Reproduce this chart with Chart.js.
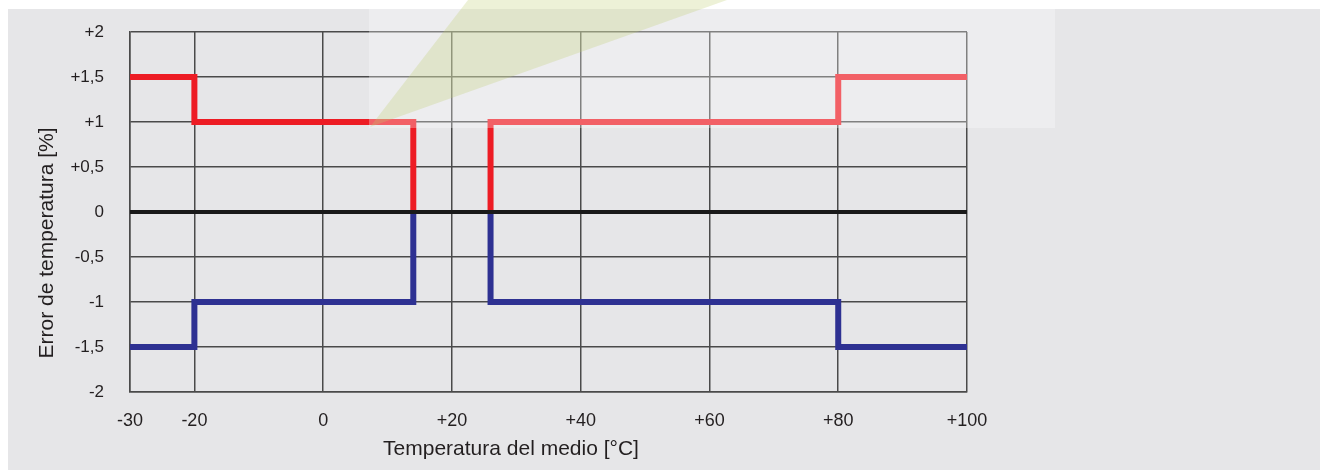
<!DOCTYPE html>
<html>
<head>
<meta charset="utf-8">
<script src="https://cdn.jsdelivr.net/npm/chart.js@4/dist/chart.umd.min.js"></script>
<style>
  html, body { margin: 0; padding: 0; background: #fff; }
  #wrap { width: 1320px; height: 470px; }
</style>
</head>
<body>
<div id="wrap"><canvas id="chart"></canvas></div>
<script>
// x ticks (°C) and y ticks (%)
var xTicks = [-30, -20, 0, 20, 40, 60, 80, 100];
var yTicks = [-2, -1.5, -1, -0.5, 0, 0.5, 1, 1.5, 2];
var xTitle = 'Temperatura del medio [°C]';
var yTitle = 'Error de temperatura [%]';

// error limits, drawn as steps
var redLeftX = [-30, -20, 14, 14];
var redLeftY = [1.5, 1, 1, 0];
var redRightX = [26, 26, 80, 100];
var redRightY = [0, 1, 1.5, 1.5];
var blueLeftX = [-30, -20, 14, 14];
var blueLeftY = [-1.5, -1, -1, 0];
var blueRightX = [26, 26, 80, 100];
var blueRightY = [0, -1, -1.5, -1.5];
var zeroX = [-30, 100];
var zeroY = [0, 0];

function pts(xs, ys) {
  return xs.map(function (x, i) { return { x: x, y: ys[i] }; });
}

function fmt(v) {
  var s = String(Math.abs(v)).replace('.', ',');
  if (v > 0) return '+' + s;
  if (v < 0) return '-' + s;
  return '0';
}

var RED = '#ed1c24', BLUE = '#2e3192', TXT = '#231f20';
var FONT = 'Liberation Sans, Arial, sans-serif';

function stepSet(data, color, w) {
  return {
    data: data, borderColor: color, borderWidth: w, stepped: 'before',
    pointRadius: 0, fill: false, borderJoinStyle: 'miter', borderCapStyle: 'butt'
  };
}

var background = {
  id: 'background',
  beforeDraw: function (chart) {
    var c = chart.ctx;
    c.save();
    c.fillStyle = '#ffffff';
    c.fillRect(0, 0, chart.width, chart.height);
    c.fillStyle = '#e6e6e8';
    c.fillRect(8, 9, chart.width - 8, chart.height - 9);
    c.restore();
  }
};

// axis titles
var titles = {
  id: 'titles',
  afterDraw: function (chart) {
    var c = chart.ctx;
    c.save();
    c.fillStyle = TXT;
    c.font = '21px ' + FONT;
    c.textAlign = 'center';
    c.textBaseline = 'middle';
    c.fillText(xTitle, 511, 449);
    c.translate(47, 243);
    c.rotate(-Math.PI / 2);
    c.fillText(yTitle, 0, 0);
    c.restore();
  }
};

// pale box and greenish wedge laid over the top of the picture
var overlay = {
  id: 'overlay',
  afterDraw: function (chart) {
    var c = chart.ctx;
    c.save();
    c.fillStyle = 'rgba(255,255,255,0.3)';
    c.fillRect(369, 9, 686, 119);
    c.fillStyle = 'rgba(190,205,110,0.28)';
    c.beginPath();
    c.moveTo(370, 127);
    c.lineTo(468, 0);
    c.lineTo(727, 0);
    c.closePath();
    c.fill();
    c.restore();
  }
};

new Chart(document.getElementById('chart'), {
  type: 'line',
  data: {
    datasets: [
      stepSet(pts(zeroX, zeroY), '#1a1a1a', 4),
      stepSet(pts(redLeftX, redLeftY), RED, 6),
      stepSet(pts(redRightX, redRightY), RED, 6),
      stepSet(pts(blueLeftX, blueLeftY), BLUE, 6),
      stepSet(pts(blueRightX, blueRightY), BLUE, 6)
    ]
  },
  options: {
    responsive: true,
    maintainAspectRatio: false,
    animation: false,
    layout: { padding: { left: 0, top: 32, right: 353, bottom: 0 } },
    plugins: { legend: { display: false }, tooltip: { enabled: false } },
    scales: {
      x: {
        type: 'linear',
        min: -30,
        max: 100,
        afterBuildTicks: function (axis) {
          axis.ticks = xTicks.map(function (v) { return { value: v }; });
        },
        afterFit: function (axis) {
          axis.height = 78;
          axis.paddingLeft = 0;
          axis.paddingRight = 0;
        },
        grid: { color: '#4a4a4a', lineWidth: 1.5, drawTicks: false },
        border: { color: '#4a4a4a', width: 1.5 },
        ticks: {
          padding: 18, color: TXT, font: { family: FONT, size: 18 },
          maxRotation: 0, autoSkip: false,
          callback: function (v) { return fmt(v); }
        }
      },
      y: {
        min: -2,
        max: 2,
        afterBuildTicks: function (axis) {
          axis.ticks = yTicks.map(function (v) { return { value: v }; });
        },
        afterFit: function (axis) {
          axis.width = 130;
          axis.paddingTop = 0;
          axis.paddingBottom = 0;
        },
        grid: { color: '#4a4a4a', lineWidth: 1.5, drawTicks: false },
        border: { color: '#4a4a4a', width: 1.5 },
        ticks: {
          padding: 26, color: TXT, font: { family: FONT, size: 17 },
          autoSkip: false,
          callback: function (v) { return fmt(v); }
        }
      }
    }
  },
  plugins: [background, titles, overlay]
});
</script>
</body>
</html>
